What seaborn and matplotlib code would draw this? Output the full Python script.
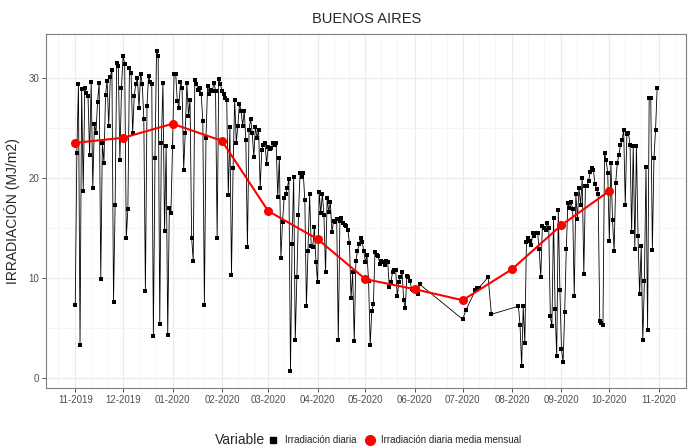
import pandas as pd
import matplotlib
matplotlib.use("Agg")
import matplotlib.pyplot as plt
import matplotlib.dates as mdates
from matplotlib.lines import Line2D
import seaborn as sns

# irradiacion diaria (MJ/m2)
nov_2019 = [7.3, 22.5, 29.4, 3.3, 28.9, 18.7, 29.0, 28.5, 28.2, 22.3, 29.6, 19.0, 25.4, 24.5, 27.6,
            29.5, 9.9, 23.5, 21.5, 28.3, 29.7, 25.2, 30.1, 30.8, 7.6, 17.3, 31.5, 31.2, 21.8, 29.0]
dic_2019 = [32.2, 31.4, 14.0, 16.9, 31.0, 30.5, 24.5, 28.2, 29.4, 30.0, 27.0, 30.4, 29.4, 25.9, 8.7,
            27.2, 30.2, 29.6, 29.4, 4.2, 22.0, 32.7, 32.2, 5.4, 23.5, 29.5, 14.7, 23.2, 4.3, 17.0, 16.5]
ene_2020 = [23.1, 30.4, 30.4, 27.7, 27.0, 29.6, 29.0, 20.8, 24.5, 29.5, 26.2, 27.8, 14.0, 11.7, 29.8,
            29.4, 28.8, 29.0, 28.4, 25.7, 7.3, 24.0, 29.2, 28.4, 28.8, 28.7, 29.5, 28.7, 14.0, 29.9, 29.4]
feb_2020 = [28.7, 28.4, 28.0, 27.8, 18.3, 25.1, 10.3, 21.0, 27.8, 23.5, 25.2, 27.4, 26.7, 25.2, 26.7,
            23.8, 13.1, 24.8, 25.9, 24.5, 22.1, 25.1, 24.0, 24.8, 19.0, 22.8, 23.3, 23.5, 21.4]
mar_2020 = [23.1, 22.9, 23.0, 23.5, 23.3, 23.5, 18.1, 22.0, 12.0, 15.6, 18.0, 18.4, 19.0, 19.9, 0.7,
            13.4, 20.1, 3.8, 10.1, 16.3, 20.5, 20.1, 20.5, 17.8, 7.2, 12.7, 18.4, 13.2, 13.1, 15.1, 11.6]
abr_2020 = [9.6, 18.6, 16.5, 18.4, 16.3, 10.6, 18.0, 16.6, 17.6, 14.6, 15.7, 15.6, 15.9, 3.8, 15.7,
            16.0, 15.5, 15.3, 15.2, 14.8, 13.5, 8.0, 10.6, 3.7, 11.7, 12.7, 13.4, 14.0, 13.6, 12.7]
may_2020 = [11.6, 12.3, 9.7, 3.3, 6.7, 7.4, 12.6, 12.3, 12.2, 11.4, 11.7, 11.6, 11.3, 11.7, 11.6,
            9.1, 9.6, 10.6, 10.8, 10.8, 8.2, 9.6, 10.1, 10.6, 7.8, 7.0, 10.2, 10.1, 9.7, 8.9, 8.8]
jun_2020 = [8.9, 8.7, 8.4, 9.4]
jul_2020_fechas = ["2020-07-01", "2020-07-03", "2020-07-09", "2020-07-10", "2020-07-11",
                   "2020-07-17", "2020-07-19"]
jul_2020 = [5.9, 6.8, 8.8, 9.0, 9.0, 10.1, 6.4]
ago_2020 = [7.2, 5.3, 1.2, 7.2, 3.5, 13.6, 14.0, 13.7, 13.3, 14.5, 14.2, 14.5, 14.5, 12.9, 10.1,
            15.2, 15.0, 14.8, 15.5, 15.0, 6.2, 5.2, 16.0, 6.9, 2.2, 16.8, 8.8]  # desde el 5/8
sep_2020 = [2.9, 1.6, 6.6, 12.9, 17.5, 17.0, 17.6, 16.9, 8.2, 18.4, 15.9, 19.0, 17.3, 20.0, 10.4,
            19.2, 19.2, 19.7, 20.6, 21.0, 20.8, 19.4, 18.9, 18.4, 5.7, 5.5, 5.3, 22.5, 21.8, 20.5]
oct_2020 = [13.7, 21.5, 15.8, 12.7, 19.5, 21.5, 22.3, 23.3, 23.8, 24.8, 17.3, 24.4, 24.5, 23.3, 14.6,
            23.2, 12.9, 23.2, 14.2, 8.4, 13.2, 3.8, 9.7, 21.1, 4.8, 28.0, 28.0, 12.8, 22.0, 24.8, 29.0]

# media mensual
meses = ["2019-11-01", "2019-12-01", "2020-01-01", "2020-02-01", "2020-03-01", "2020-04-01",
         "2020-05-01", "2020-06-01", "2020-07-01", "2020-08-01", "2020-09-01", "2020-10-01"]
media_mensual = [23.5, 24.0, 25.4, 23.7, 16.7, 13.9, 9.9, 8.9, 7.8, 10.9, 15.3, 18.7]


def tramo(inicio, valores):
    return pd.DataFrame({"fecha": pd.date_range(inicio, periods=len(valores), freq="D"),
                         "irr": valores})


df_diaria = pd.concat([
    tramo("2019-11-01", nov_2019), tramo("2019-12-01", dic_2019), tramo("2020-01-01", ene_2020),
    tramo("2020-02-01", feb_2020), tramo("2020-03-01", mar_2020), tramo("2020-04-01", abr_2020),
    tramo("2020-05-01", may_2020), tramo("2020-06-01", jun_2020),
    pd.DataFrame({"fecha": pd.to_datetime(jul_2020_fechas), "irr": jul_2020}),
    tramo("2020-08-05", ago_2020), tramo("2020-09-01", sep_2020), tramo("2020-10-01", oct_2020),
], ignore_index=True)

df_mensual = pd.DataFrame({"fecha": pd.to_datetime(meses), "irr": media_mensual})

sns.set_style("white")
plt.rcParams["font.family"] = ["Liberation Sans", "DejaVu Sans"]

fig = plt.figure(figsize=(6.89, 4.48), dpi=100)
ax = fig.add_axes([0.067, 0.134, 0.929, 0.790])

sns.lineplot(data=df_diaria, x="fecha", y="irr", ax=ax, color="black", linewidth=0.6,
             marker="s", markersize=2.2, markeredgewidth=0, sort=True)
sns.lineplot(data=df_mensual, x="fecha", y="irr", ax=ax, color="#FF0000", linewidth=1.5,
             marker="o", markersize=6.5, markeredgewidth=0)

# escalas tipo ggplot (expansion 5%)
x0 = mdates.date2num(pd.Timestamp("2019-11-01"))
x1 = mdates.date2num(pd.Timestamp("2020-10-31"))
dx = (x1 - x0) * 0.05
ax.set_xlim(x0 - dx, x1 + dx)
y0, y1 = 0.7, 32.7
dy = (y1 - y0) * 0.05
ax.set_ylim(y0 - dy - 0.05, y1 + dy + 0.05)

ax.xaxis.set_major_locator(mdates.MonthLocator())
ax.xaxis.set_major_formatter(mdates.DateFormatter("%m-%Y"))
ax.xaxis.set_minor_locator(mdates.DayLocator(bymonthday=[11, 21]))
ax.set_yticks([0, 10, 20, 30])
ax.set_yticks([5, 15, 25], minor=True)

ax.grid(which="major", color="#EBEBEB", linewidth=0.8)
ax.grid(which="minor", color="#F2F2F2", linewidth=0.5)
ax.set_axisbelow(True)
for s in ax.spines.values():
    s.set_color("#7F7F7F")
    s.set_linewidth(0.8)

ax.tick_params(axis="both", which="major", labelsize=7, labelcolor="#4D4D4D", color="#333333",
               length=3, width=0.6, direction="out", bottom=True, left=True, pad=2)
ax.tick_params(axis="both", which="minor", length=0)

ax.set_xlabel("")
ax.set_ylabel("IRRADIACIÓN (MJ/m2)", fontsize=10, labelpad=6)
ax.set_title("BUENOS AIRES", fontsize=10.5, pad=8)

# leyenda inferior: titulo a la izquierda de las claves
fig.text(265 / 689, 0.018, "Variable", fontsize=10, ha="right", va="center")
handles = [
    Line2D([], [], color="black", marker="s", linestyle="none", markersize=5),
    Line2D([], [], color="#FF0000", marker="o", linestyle="none", markersize=7),
]
fig.legend(handles, ["Irradiación diaria", "Irradiación diaria media mensual"],
           loc="center left", bbox_to_anchor=(268 / 689, 0.018), ncol=2,
           frameon=False, fontsize=7, handletextpad=0.7, handlelength=1.0,
           columnspacing=0.9, borderpad=0, borderaxespad=0)

fig.savefig("out.png", dpi=100)
